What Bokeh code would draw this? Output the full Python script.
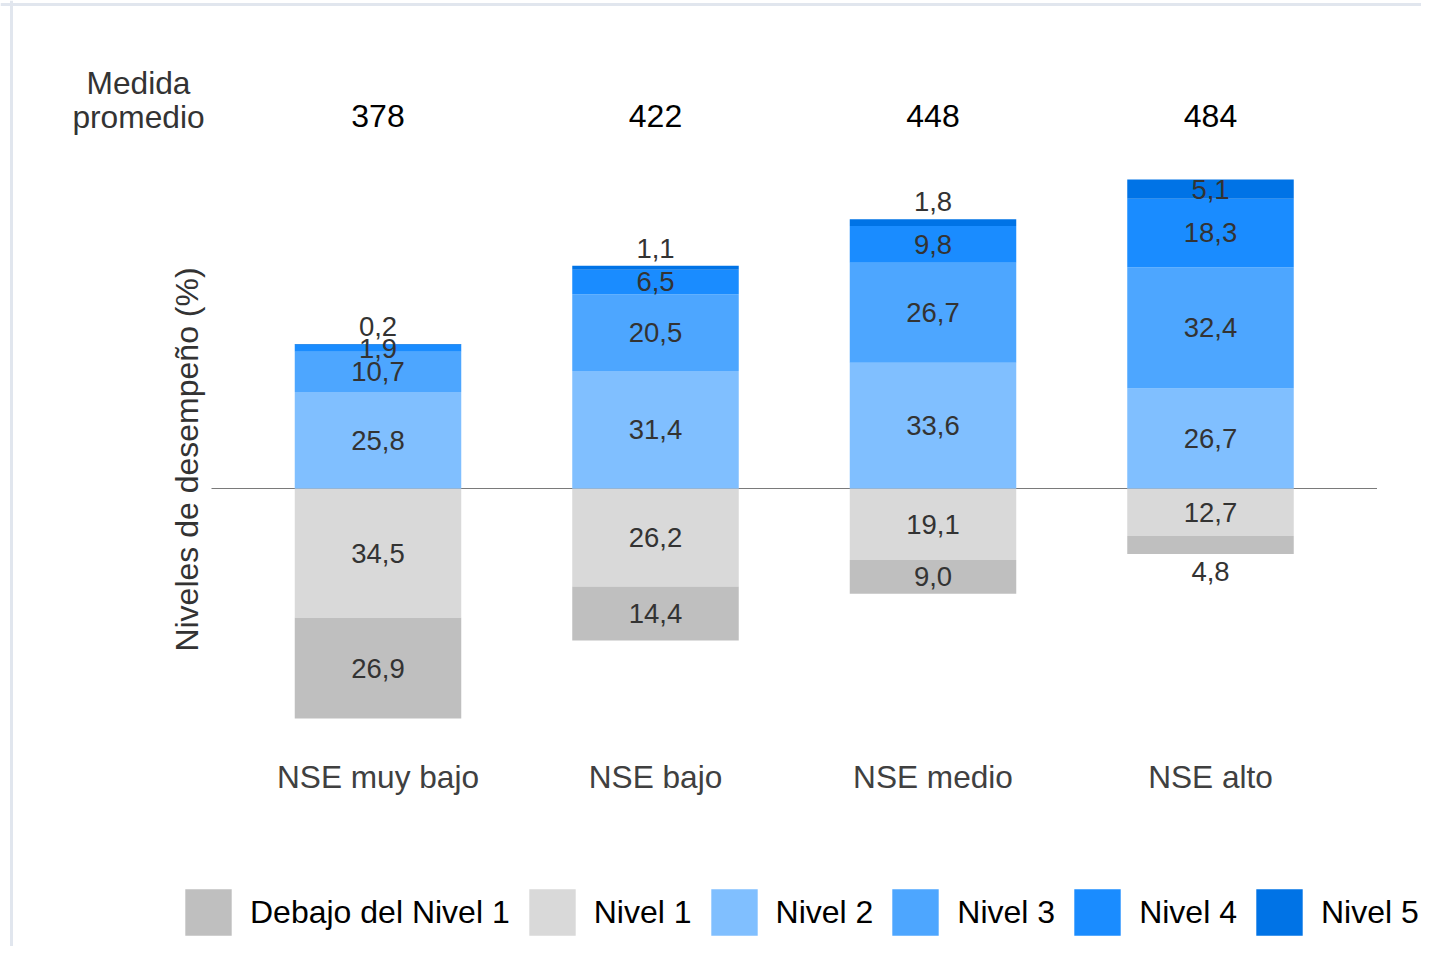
from bokeh.plotting import figure
from bokeh.models import Range1d, ColumnDataSource, Legend, LegendItem, Span
from bokeh.core.properties import value
from bokeh.embed import file_html
from bokeh.resources import INLINE
import math

# ---------------- data ----------------
categories = ["NSE muy bajo", "NSE bajo", "NSE medio", "NSE alto"]
medida_promedio = [378, 422, 448, 484]
debajo_nivel1 = [26.9, 14.4, 9.0, 4.8]
nivel1 = [34.5, 26.2, 19.1, 12.7]
nivel2 = [25.8, 31.4, 33.6, 26.7]
nivel3 = [10.7, 20.5, 26.7, 32.4]
nivel4 = [1.9, 6.5, 9.8, 18.3]
nivel5 = [0.2, 1.1, 1.8, 5.1]
level_names = ["Debajo del Nivel 1", "Nivel 1", "Nivel 2", "Nivel 3", "Nivel 4", "Nivel 5"]
medida_title = ["Medida", "promedio"]

# ---------------- styles / layout ----------------
colors = ["#bfbfbf", "#d9d9d9", "#80bfff", "#4da6ff", "#1a8cff", "#0073e6"]
FONT_NAME = "Liberation Sans"
FONT = value(FONT_NAME)
W, H = 1421, 946
PX = 3.745          # pixels per percentage point
CX = 277.5          # pixels per category
X_CENTER0 = 377.5   # screen x of first category centre
Y_ZERO = 488.0      # screen y of zero line
X0 = -X_CENTER0 / CX
X1 = X0 + W / CX
Y1 = Y_ZERO / PX
Y0 = Y1 - H / PX

def fmt(v):
    return f"{v:.1f}".replace(".", ",")

def sx(px):
    return (px - X_CENTER0) / CX

def sy(py):
    return (Y_ZERO - py) / PX

p = figure(width=W, height=H, x_range=Range1d(X0, X1), y_range=Range1d(Y0, Y1),
           output_backend="svg", toolbar_location=None, min_border=0,
           x_axis_location=None, y_axis_location=None)
p.grid.visible = False
p.outline_line_color = None
p.background_fill_color = "white"
p.border_fill_color = "white"

# light frame lines (top and left) as in the reference
p.add_layout(Span(location=sx(11), dimension="height", line_color="#e1e6ee", line_width=3))
p.add_layout(Span(location=sy(4), dimension="width", line_color="#e1e6ee", line_width=3))

idx = list(range(len(categories)))

# zero line
p.line(x=[idx[0] - 0.6, idx[-1] + 0.6], y=[0, 0], line_color="#7a7a7a", line_width=1.2)

# stacks: negative (Nivel 1 then Debajo), positive (Nivel 2..5)
neg_series = [nivel1, debajo_nivel1]
neg_colors = [colors[1], colors[0]]
pos_series = [nivel2, nivel3, nivel4, nivel5]
pos_colors = colors[2:]

renderers = {}
lab_x, lab_y, lab_t = [], [], []
OUT = 17.5 / PX

base = [0.0] * len(idx)
for k, (ser, col) in enumerate(zip(neg_series, neg_colors)):
    top = base[:]
    bottom = [b - v for b, v in zip(base, ser)]
    src = ColumnDataSource(dict(x=idx, top=top, bottom=bottom))
    r = p.vbar(x="x", top="top", bottom="bottom", width=0.6, source=src,
               fill_color=col, line_color=None)
    renderers[col] = r
    outer = (k == len(neg_series) - 1)
    for i, v in enumerate(ser):
        lab_x.append(idx[i])
        if outer and v < 5:
            lab_y.append(bottom[i] - OUT)
        else:
            lab_y.append((top[i] + bottom[i]) / 2)
        lab_t.append(fmt(v))
    base = bottom

base = [0.0] * len(idx)
for k, (ser, col) in enumerate(zip(pos_series, pos_colors)):
    bottom = base[:]
    top = [b + v for b, v in zip(base, ser)]
    src = ColumnDataSource(dict(x=idx, top=top, bottom=bottom))
    r = p.vbar(x="x", top="top", bottom="bottom", width=0.6, source=src,
               fill_color=col, line_color=None)
    renderers[col] = r
    outer = (k == len(pos_series) - 1)
    for i, v in enumerate(ser):
        lab_x.append(idx[i])
        if outer and v < 5:
            lab_y.append(top[i] + OUT)
        else:
            lab_y.append((top[i] + bottom[i]) / 2)
        lab_t.append(fmt(v))
    base = top

# value labels
p.text(x=lab_x, y=lab_y, text=lab_t, text_font=FONT, text_font_size="27.5px",
       text_color="#333333", text_align="center", text_baseline="middle")

# medida promedio row
p.text(x=idx, y=[sy(115)] * len(idx), text=[str(m) for m in medida_promedio],
       text_font=FONT, text_font_size="32px", text_color="#000000",
       text_align="center", text_baseline="middle")
p.text(x=[sx(138)] * 2, y=[sy(82), sy(116)], text=medida_title, text_font=FONT,
       text_font_size="31.7px", text_color="#333333", text_align="center",
       text_baseline="middle")

# category labels
p.text(x=idx, y=[sy(776)] * len(idx), text=categories, text_font=FONT,
       text_font_size="31.6px", text_color="#404040", text_align="center",
       text_baseline="middle")

# y label
p.text(x=[sx(186)], y=[sy(459)], text=["Niveles de desempeño (%)"], text_font=FONT,
       text_font_size="32px", text_color="#333333", text_align="center",
       text_baseline="middle", angle=math.pi / 2)

# legend
items = [LegendItem(label=name, renderers=[renderers[col]])
         for name, col in zip(level_names, colors)]
legend = Legend(items=items, orientation="horizontal", location=(179, 5),
                glyph_width=58, glyph_height=58, label_standoff=13, spacing=13,
                padding=0, margin=0, border_line_alpha=0, background_fill_alpha=0,
                label_text_font=FONT_NAME, label_text_font_size="32px",
                label_text_color="#000000")
p.add_layout(legend)

open("out.html", "w").write(file_html(p, INLINE))
